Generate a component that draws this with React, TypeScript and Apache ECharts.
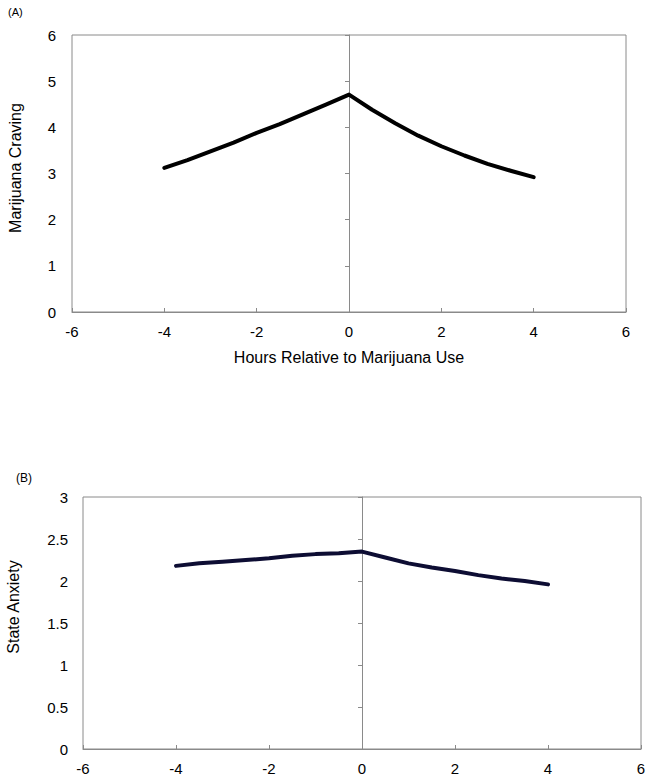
import React, { useEffect, useRef } from "react";
import * as echarts from "echarts";

const hours = [-4, -3.5, -3, -2.5, -2, -1.5, -1, -0.5, 0, 0.5, 1, 1.5, 2, 2.5, 3, 3.5, 4];
const craving = [3.12, 3.29, 3.48, 3.67, 3.88, 4.07, 4.28, 4.49, 4.71, 4.38, 4.09, 3.82, 3.59, 3.39, 3.21, 3.06, 2.92];
const anxiety = [2.18, 2.21, 2.23, 2.25, 2.27, 2.3, 2.32, 2.33, 2.35, 2.28, 2.21, 2.16, 2.12, 2.07, 2.03, 2.0, 1.96];

const FONT = "'Liberation Sans', Arial, sans-serif";
const GRAY = "#8a8a8a";

export default function App() {
  const ref = useRef<HTMLDivElement>(null);
  useEffect(() => {
    if (!ref.current) return;
    const chart = echarts.init(ref.current, null, { renderer: "svg" });
    const xAxisBase = (gridIndex: number) => ({
      type: "value",
      gridIndex,
      min: -6,
      max: 6,
      interval: 2,
      axisLine: { show: true, onZero: false, lineStyle: { color: GRAY, width: 1 } },
      axisTick: { show: true, inside: true, length: 4, lineStyle: { color: GRAY } },
      axisLabel: { color: "#000", fontSize: 15, fontFamily: FONT, margin: 12 },
      splitLine: { show: false },
    });
    const yCenter = (gridIndex: number, max: number, interval: number) => ({
      type: "value",
      gridIndex,
      min: 0,
      max,
      interval,
      position: "left",
      axisLine: { show: true, onZero: true, lineStyle: { color: GRAY, width: 1 } },
      axisTick: { show: true, inside: false, length: 4, lineStyle: { color: GRAY } },
      axisLabel: { show: false },
      splitLine: { show: false },
    });
    const yLabels = (gridIndex: number, max: number, interval: number, margin: number) => ({
      type: "value",
      gridIndex,
      min: 0,
      max,
      interval,
      position: "left",
      axisLine: { show: false, onZero: false },
      axisTick: { show: false },
      axisLabel: { color: "#000", fontSize: 15, fontFamily: FONT, margin },
      splitLine: { show: false },
    });
    const option: any = {
      animation: false,
      backgroundColor: "#fff",
      grid: [
        { left: 72, top: 35, width: 554, height: 277, show: true, borderColor: GRAY, borderWidth: 1, backgroundColor: "transparent" },
        { left: 83, top: 497, width: 558, height: 252, show: true, borderColor: GRAY, borderWidth: 1, backgroundColor: "transparent" },
      ],
      xAxis: [xAxisBase(0), xAxisBase(1)],
      yAxis: [
        yCenter(0, 6, 1),
        yLabels(0, 6, 1, 16),
        yCenter(1, 3, 0.5),
        yLabels(1, 3, 0.5, 15),
      ],
      series: [
        {
          type: "line",
          xAxisIndex: 0,
          yAxisIndex: 0,
          data: hours.map((h, i) => [h, craving[i]]),
          showSymbol: false,
          symbol: "none",
          lineStyle: { color: "#000", width: 4, cap: "round", join: "round" },
        },
        {
          type: "line",
          xAxisIndex: 1,
          yAxisIndex: 2,
          data: hours.map((h, i) => [h, anxiety[i]]),
          showSymbol: false,
          symbol: "none",
          lineStyle: { color: "#0d0d33", width: 4, cap: "round", join: "round" },
        },
      ],
      graphic: [
        { type: "text", left: 8, top: 6, style: { text: "(A)", fontSize: 11, fontFamily: FONT, fill: "#000" } },
        { type: "text", left: 16, top: 472, style: { text: "(B)", fontSize: 12, fontFamily: FONT, fill: "#000" } },
        {
          type: "text",
          x: 15,
          y: 168,
          rotation: Math.PI / 2,
          style: { text: "Marijuana Craving", fontSize: 16, fontFamily: FONT, fill: "#000", align: "center", verticalAlign: "middle" },
        },
        {
          type: "text",
          x: 349,
          y: 357,
          style: { text: "Hours Relative to Marijuana Use", fontSize: 16, fontFamily: FONT, fill: "#000", align: "center", verticalAlign: "middle" },
        },
        {
          type: "text",
          x: 13,
          y: 607,
          rotation: Math.PI / 2,
          style: { text: "State Anxiety", fontSize: 16, fontFamily: FONT, fill: "#000", align: "center", verticalAlign: "middle" },
        },
      ],
    };
    chart.setOption(option);
    return () => chart.dispose();
  }, []);
  return (
    <div
      ref={ref}
      style={{ position: "absolute", left: 0, top: 0, width: 650, height: 782, background: "#fff" }}
    />
  );
}
